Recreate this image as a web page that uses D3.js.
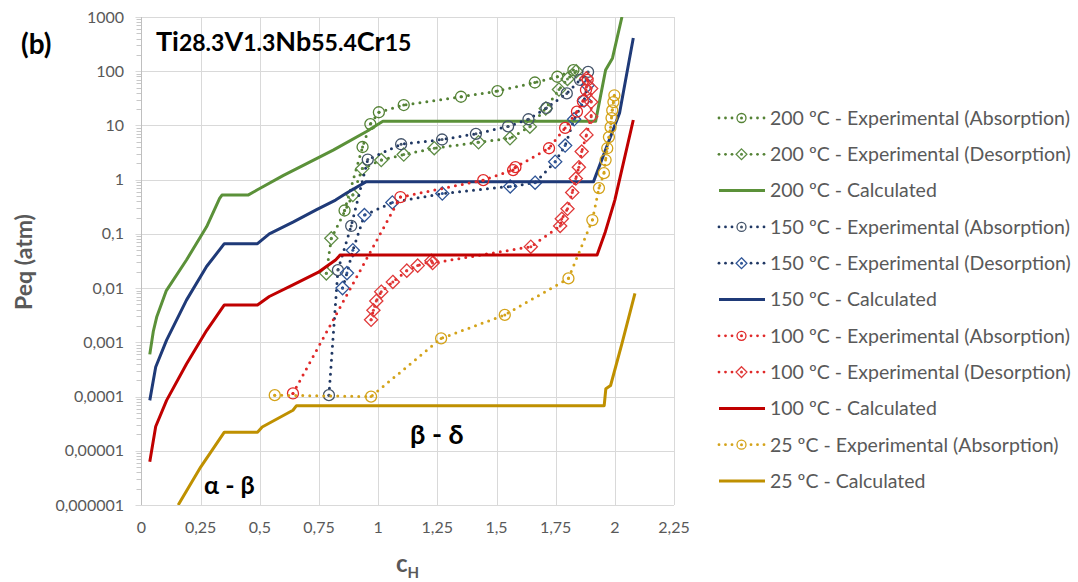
<!DOCTYPE html>
<html><head><meta charset="utf-8">
<script src="https://cdn.jsdelivr.net/npm/d3@7"></script>
<style>body{margin:0;background:#fff}text{font-family:Lato,"Noto Sans",sans-serif}</style>
</head><body><svg id="c" width="1078" height="582"></svg>
<script>
// ---------- data ----------
const xTicks = [0, 0.25, 0.5, 0.75, 1, 1.25, 1.5, 1.75, 2, 2.25];
const xTickLabels = ["0", "0,25", "0,5", "0,75", "1", "1,25", "1,5", "1,75", "2", "2,25"];
const yTicks = [1e-6, 1e-5, 1e-4, 1e-3, 1e-2, 1e-1, 1, 10, 100, 1000];
const yTickLabels = ["0,000001", "0,00001", "0,0001", "0,001", "0,01", "0,1", "1", "10", "100", "1000"];

const exp200abs = [[0.858,0.27],[0.934,4.0],[0.967,10.6],[1.003,17.5],[1.108,23.8],[1.35,33.8],[1.504,43],[1.662,62],[1.757,79],[1.825,105]];
const exp200des = [[0.781,0.0187],[0.802,0.083],[0.893,0.52],[0.933,1.6],[1.013,2.3],[1.108,2.9],[1.237,3.8],[1.424,4.9],[1.557,5.8],[1.641,9.5],[1.708,20.6],[1.764,46],[1.8,72],[1.837,100]];
const calc200 = [[0.035,6e-4],[0.05,1.6e-3],[0.065,3e-3],[0.105,9e-3],[0.19,0.033],[0.275,0.135],[0.33,0.45],[0.34,0.52],[0.45,0.52],[0.49,0.65],[0.6,1.2],[0.7,2.0],[0.81,3.5],[0.949,7.66],[1.02,12],[1.919,12],[1.961,105],[1.99,174],[2.03,1000]];

const exp150abs = [[0.792,1.06e-4],[0.83,0.0215],[0.886,0.14],[0.956,2.35],[1.097,4.5],[1.27,5.5],[1.413,7.0],[1.549,9.6],[1.635,13],[1.711,21],[1.797,39],[1.853,69],[1.887,97]];
const exp150des = [[0.8495,0.01],[0.868,0.0189],[0.893,0.05],[0.942,0.222],[1.06,0.38],[1.271,0.555],[1.558,0.75],[1.663,0.88],[1.748,2.14],[1.79,4.25],[1.828,13],[1.87,29],[1.885,55]];
const calc150 = [[0.035,8.5e-5],[0.06,3.5e-4],[0.106,1.1e-3],[0.19,6e-3],[0.275,0.025],[0.35,0.066],[0.49,0.066],[0.54,0.1],[0.64,0.165],[0.74,0.28],[0.82,0.42],[0.865,0.56],[0.95,0.92],[1.91,0.92],[1.96,3.5],[2.02,17],[2.078,410]];

const exp100abs = [[0.64,1.14e-4],[1.094,0.478],[1.444,0.98],[1.57,1.5],[1.58,1.7],[1.722,3.8],[1.79,9],[1.84,18],[1.865,28],[1.878,45],[1.885,69]];
const exp100des = [[0.97,0.0026],[0.98,0.0039],[0.992,0.0058],[1.013,0.0086],[1.062,0.013],[1.121,0.021],[1.167,0.026],[1.225,0.032],[1.23,0.029],[1.645,0.058],[1.769,0.14],[1.776,0.19],[1.8,0.29],[1.82,0.58],[1.835,1.05],[1.848,1.7],[1.86,3.3],[1.88,6.7],[1.9,14.5],[1.9,27],[1.9,48],[1.88,74]];
const calc100 = [[0.035,6.3e-6],[0.06,2.8e-5],[0.106,8.5e-5],[0.19,4e-4],[0.275,1.65e-3],[0.35,4.9e-3],[0.49,4.9e-3],[0.54,7e-3],[0.64,0.0115],[0.75,0.02],[0.82,0.033],[0.84,0.041],[1.925,0.041],[1.96,0.11],[2.0,0.42],[2.078,12.6]];

const exp25abs = [[0.563,1.06e-4],[0.97,1.0e-4],[1.266,1.18e-3],[1.535,3.2e-3],[1.804,0.0151],[1.905,0.18],[1.933,0.70],[1.954,1.32],[1.961,2.3],[1.968,3.8],[1.975,6.1],[1.982,9.3],[1.986,13.7],[1.989,19],[1.994,27],[1.998,36]];
const calc25 = [[0.155,1e-6],[0.25,5e-6],[0.35,2.2e-5],[0.49,2.2e-5],[0.51,2.75e-5],[0.64,5.6e-5],[0.655,6.8e-5],[1.955,6.8e-5],[1.962,1.4e-4],[1.982,1.6e-4],[2.03,9.5e-4],[2.085,8e-3]];

const seriesNames = [
  "200 ºC - Experimental (Absorption)", "200 ºC - Experimental (Desorption)", "200 ºC - Calculated",
  "150 ºC - Experimental (Absorption)", "150 ºC - Experimental (Desorption)", "150 ºC - Calculated",
  "100 ºC - Experimental (Absorption)", "100 ºC - Experimental (Desorption)", "100 ºC - Calculated",
  "25 ºC - Experimental (Absorption)", "25 ºC - Calculated"
];
const seriesData = [exp200abs, exp200des, calc200, exp150abs, exp150des, calc150, exp100abs, exp100des, calc100, exp25abs, calc25];
const seriesKind = ["circle","diamond","line","circle","diamond","line","circle","diamond","line","circle","line"];
const lineColors   = ["#548235","#548235","#5B9139","#203864","#203864","#1F3A78","#E02828","#E02828","#C00000","#D4A31A","#BF9000"];
const markerColors = ["#548235","#5E8C45","#5B9139","#44546A","#2F5597","#1F3A78","#E02828","#E03A3A","#C00000","#D4A31A","#BF9000"];

// ---------- layout ----------
const svg = d3.select("#c");
const L = 141.5, R = 674, T = 17, B = 505;
const x = d3.scaleLinear().domain([0, 2.25]).range([L, R]);
const y = d3.scaleLog().domain([1e-6, 1000]).range([B, T]);
const grey = "#595959";

// grid
const g = svg.append("g");
g.selectAll(".vg").data(xTicks.slice(1)).enter().append("line")
  .attr("x1", d => Math.round(x(d)) + 0.5).attr("x2", d => Math.round(x(d)) + 0.5)
  .attr("y1", T).attr("y2", B).attr("stroke", "#D9D9D9").attr("stroke-width", 1);
g.selectAll(".hg").data(yTicks).enter().append("line")
  .attr("x1", L - 6).attr("x2", R)
  .attr("y1", d => Math.round(y(d)) + 0.5).attr("y2", d => Math.round(y(d)) + 0.5)
  .attr("stroke", "#D9D9D9").attr("stroke-width", 1);
// minor ticks on log axis
const minor = [];
for (let e = -6; e < 3; e++) for (let k = 2; k <= 9; k++) minor.push(k * Math.pow(10, e));
g.selectAll(".mt").data(minor).enter().append("line")
  .attr("x1", L - 5).attr("x2", L)
  .attr("y1", d => Math.round(y(d)) + 0.5).attr("y2", d => Math.round(y(d)) + 0.5)
  .attr("stroke", "#C8C8C8").attr("stroke-width", 1);
// left axis line
g.append("line").attr("x1", L).attr("x2", L).attr("y1", T).attr("y2", B)
  .attr("stroke", "#BFBFBF").attr("stroke-width", 1);

// tick labels
svg.selectAll(".yl").data(yTicks).enter().append("text")
  .attr("x", 124).attr("y", d => y(d)).attr("dy", "0.35em")
  .attr("text-anchor", "end").attr("font-size", 16).attr("fill", grey)
  .text((d, i) => yTickLabels[i]);
svg.selectAll(".xl").data(xTicks).enter().append("text")
  .attr("x", d => x(d)).attr("y", 533)
  .attr("text-anchor", "middle").attr("font-size", 16).attr("fill", grey)
  .text((d, i) => xTickLabels[i]);

// axis titles
svg.append("text").attr("transform", "translate(32,262) rotate(-90)")
  .attr("text-anchor", "middle").attr("font-size", 23).attr("font-weight", "bold")
  .attr("fill", grey).text("Peq (atm)");
const ct = svg.append("text").attr("x", 396).attr("y", 572)
  .attr("font-size", 24).attr("font-weight", "bold").attr("fill", grey);
ct.append("tspan").text("c");
ct.append("tspan").attr("font-size", 15).attr("dy", 6).text("H");

// clip
svg.append("clipPath").attr("id", "clip").append("rect")
  .attr("x", L).attr("y", T).attr("width", R - L).attr("height", B - T);
const plot = svg.append("g").attr("clip-path", "url(#clip)");

const lineGen = d3.line().x(d => x(d[0])).y(d => y(d[1]));

function drawMarker(sel, kind, cx, cy, color, r) {
  if (kind === "circle") {
    sel.append("circle").attr("cx", cx).attr("cy", cy).attr("r", r)
      .attr("fill", "none").attr("stroke", color).attr("stroke-width", 1.3);
  } else {
    const h = r * 1.2;
    sel.append("path").attr("d", `M${cx},${cy - h}L${cx + h},${cy}L${cx},${cy + h}L${cx - h},${cy}Z`)
      .attr("fill", "none").attr("stroke", color).attr("stroke-width", 1.3);
  }
  sel.append("circle").attr("cx", cx).attr("cy", cy).attr("r", 1.5).attr("fill", color);
}

seriesData.forEach((data, i) => {
  const kind = seriesKind[i];
  if (kind === "line") {
    plot.append("path").datum(data).attr("d", lineGen)
      .attr("fill", "none").attr("stroke", lineColors[i]).attr("stroke-width", 3)
      .attr("stroke-linejoin", "round");
  } else {
    plot.append("path").datum(data).attr("d", lineGen)
      .attr("fill", "none").attr("stroke", lineColors[i]).attr("stroke-width", 3)
      .attr("stroke-linecap", "round").attr("stroke-dasharray", "0,7");
    const mg = plot.append("g");
    data.forEach(d => drawMarker(mg, kind, x(d[0]), y(d[1]), markerColors[i], 5.5));
  }
});

// annotations
svg.append("text").attr("x", 21).attr("y", 54).attr("font-size", 28).attr("font-weight", "bold")
  .attr("fill", "#000").text("(b)");
const tt = svg.append("text").attr("x", 156).attr("y", 51)
  .attr("font-weight", "bold").attr("fill", "#000");
[["Ti",27],["28.3",23],["V",27],["1.3",23],["Nb",27],["55.4",23],["Cr",27],["15",23]]
  .forEach(p => tt.append("tspan").attr("font-size", p[1]).text(p[0]));
svg.append("text").attr("x", 204).attr("y", 494).attr("font-size", 25).attr("font-weight", "bold")
  .attr("fill", "#000").text("α - β");
svg.append("text").attr("x", 410).attr("y", 444).attr("font-size", 27).attr("font-weight", "bold")
  .attr("fill", "#000").text("β - δ");

// legend
const legY0 = 118, legDY = 36.3;
const leg = svg.append("g");
seriesNames.forEach((name, i) => {
  const yy = legY0 + i * legDY;
  const kind = seriesKind[i];
  if (kind === "line") {
    leg.append("line").attr("x1", 719).attr("x2", 765).attr("y1", yy).attr("y2", yy)
      .attr("stroke", lineColors[i]).attr("stroke-width", 3);
  } else {
    [719, 725.5, 732, 751, 757.5, 764].forEach(px =>
      leg.append("circle").attr("cx", px).attr("cy", yy).attr("r", 1.4).attr("fill", lineColors[i]));
    drawMarker(leg, kind, 741.5, yy, markerColors[i], 4.5);
  }
  leg.append("text").attr("class", "lt").attr("x", 770).attr("y", yy).attr("dy", "0.35em")
    .attr("font-size", 17).attr("fill", grey).text(name);
});
// fit legend text width to reference (~300px for the longest label)
const w0 = leg.select(".lt").node().getComputedTextLength();
const fs = 17 * 300 / w0;
leg.selectAll(".lt").attr("font-size", fs);
</script></body></html>
